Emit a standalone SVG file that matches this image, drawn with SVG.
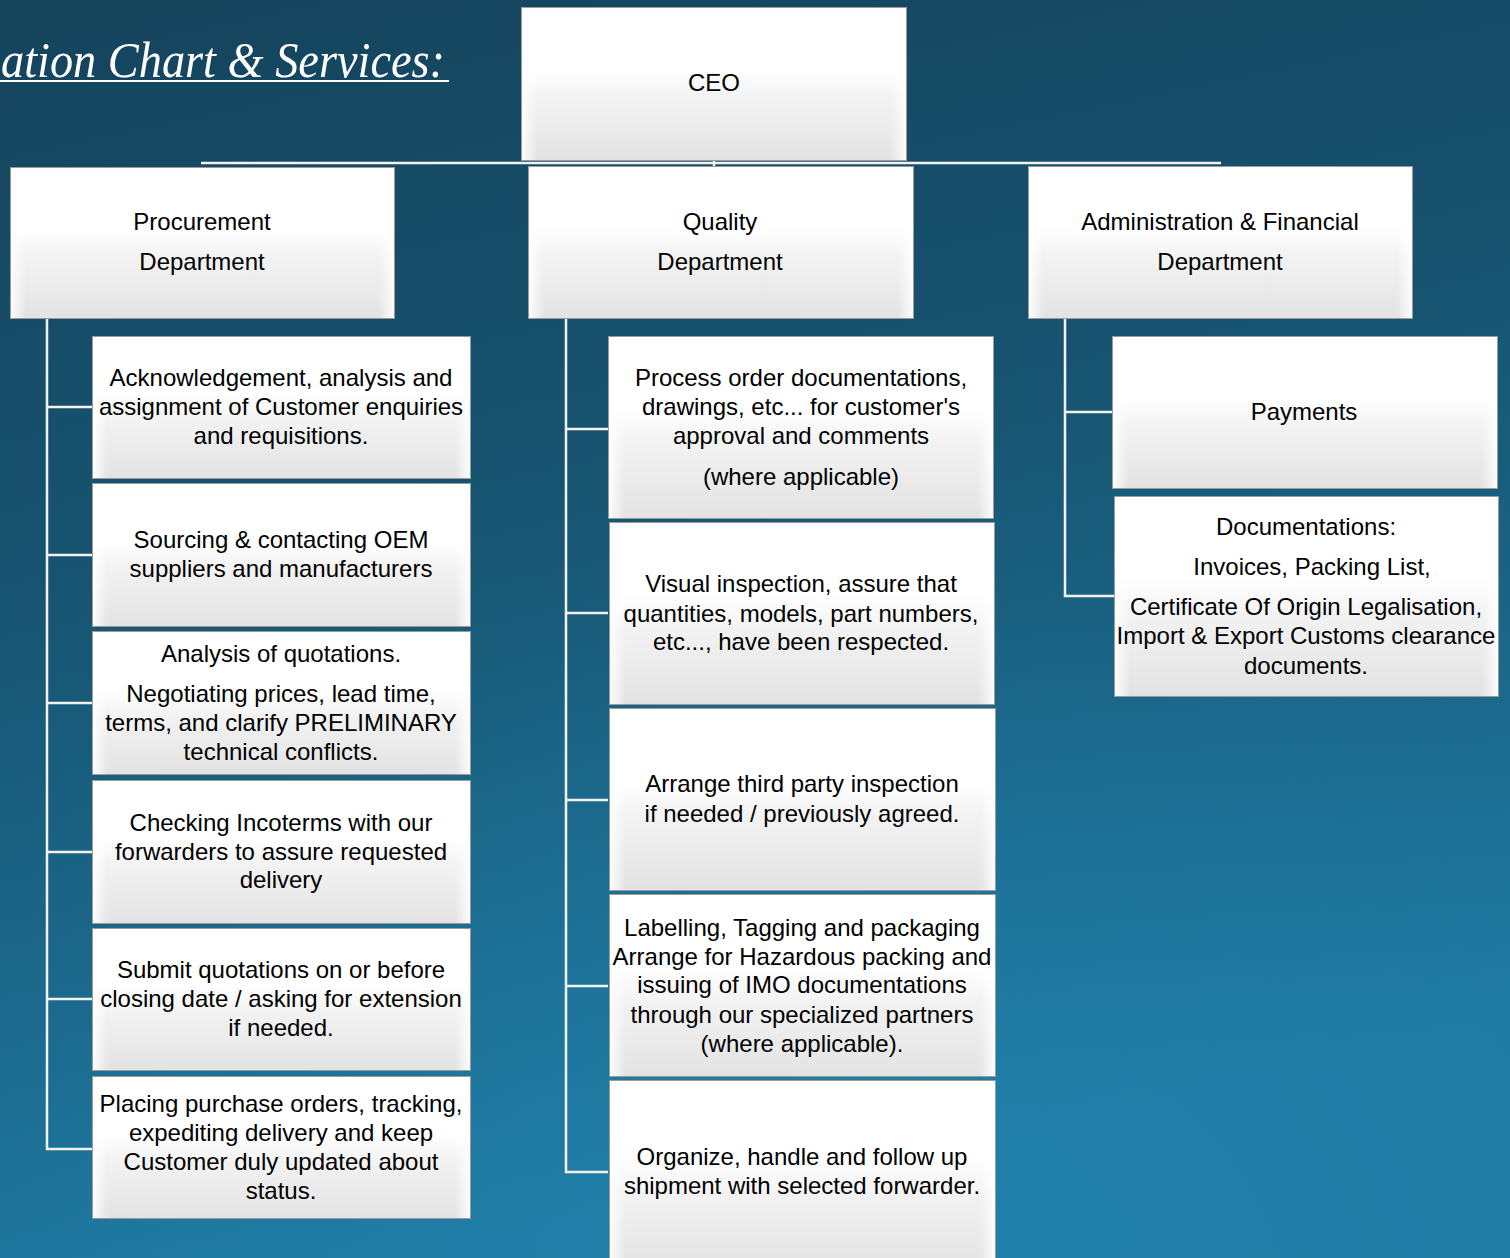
<svg xmlns="http://www.w3.org/2000/svg" width="1510" height="1258" viewBox="0 0 1510 1258">
<defs>
<linearGradient id="bg" x1="0" y1="0" x2="0.25" y2="1">
<stop offset="0" stop-color="#15435c"/>
<stop offset="0.45" stop-color="#175471"/>
<stop offset="1" stop-color="#1f7aa3"/>
</linearGradient>
<radialGradient id="glow" cx="0.6" cy="1.05" r="0.6">
<stop offset="0" stop-color="#2185b0" stop-opacity="0.55"/>
<stop offset="1" stop-color="#2185b0" stop-opacity="0"/>
</radialGradient>
<linearGradient id="box" x1="0" y1="0" x2="0" y2="1">
<stop offset="0" stop-color="#ffffff"/>
<stop offset="0.4" stop-color="#ffffff"/>
<stop offset="0.6" stop-color="#f2f2f2"/>
<stop offset="1" stop-color="#e3e3e3"/>
</linearGradient>
<linearGradient id="sides" x1="0" y1="0" x2="1" y2="0">
<stop offset="0" stop-color="#ffffff" stop-opacity="0.9"/>
<stop offset="0.04" stop-color="#ffffff" stop-opacity="0"/>
<stop offset="0.96" stop-color="#ffffff" stop-opacity="0"/>
<stop offset="1" stop-color="#ffffff" stop-opacity="0.9"/>
</linearGradient>
</defs>
<style>
.b{fill:url(#box);stroke:#9a9a9a;stroke-width:1}
.s{fill:url(#sides);stroke:none}
.t{font-family:"Liberation Sans",Arial,sans-serif;font-size:24px;fill:#000;text-anchor:middle}
.c{stroke:#f2f2f2;stroke-width:2.5;fill:none}
.title{font-family:"Liberation Serif","Times New Roman",serif;font-style:italic;font-size:50px;fill:#ffffff}
</style>
<rect x="0" y="0" width="1510" height="1258" fill="url(#bg)"/>
<rect x="0" y="0" width="1510" height="1258" fill="url(#glow)"/>

<g id="title">
<text class="title" x="1" y="77" textLength="444" lengthAdjust="spacingAndGlyphs">ation Chart &amp; Services:</text>
<line x1="0" y1="81" x2="449" y2="81" stroke="#ffffff" stroke-width="2"/>
</g>

<g id="connectors">
<polyline class="c" points="201,163 1221,163"/>
<line class="c" x1="714" y1="161" x2="714" y2="166"/>
<polyline class="c" points="47,319 47,1149 92,1149"/>
<line class="c" x1="47" y1="407" x2="92" y2="407"/>
<line class="c" x1="47" y1="555" x2="92" y2="555"/>
<line class="c" x1="47" y1="703" x2="92" y2="703"/>
<line class="c" x1="47" y1="852" x2="92" y2="852"/>
<line class="c" x1="47" y1="999" x2="92" y2="999"/>
<polyline class="c" points="566,319 566,1172 608,1172"/>
<line class="c" x1="566" y1="429" x2="608" y2="429"/>
<line class="c" x1="566" y1="613" x2="608" y2="613"/>
<line class="c" x1="566" y1="800" x2="608" y2="800"/>
<line class="c" x1="566" y1="986" x2="608" y2="986"/>
<polyline class="c" points="1065,319 1065,596 1114,596"/>
<line class="c" x1="1065" y1="412" x2="1112" y2="412"/>
</g>

<g id="ceo">
<rect class="b" x="521.5" y="7.5" width="385" height="153"/><rect class="s" x="522" y="8" width="384" height="152"/>
<text class="t" x="714" y="91">CEO</text>
</g>

<g id="procurement">
<rect class="b" x="10.5" y="167.5" width="384" height="151"/><rect class="s" x="11" y="168" width="383" height="150"/>
<text class="t" x="202" y="230">Procurement</text>
<text class="t" x="202" y="270">Department</text>
</g>
<g id="quality">
<rect class="b" x="528.5" y="166.5" width="385" height="152"/><rect class="s" x="529" y="167" width="384" height="151"/>
<text class="t" x="720" y="230">Quality</text>
<text class="t" x="720" y="270">Department</text>
</g>
<g id="admin">
<rect class="b" x="1028.5" y="166.5" width="384" height="152"/><rect class="s" x="1029" y="167" width="383" height="151"/>
<text class="t" x="1220" y="230">Administration &amp; Financial</text>
<text class="t" x="1220" y="270">Department</text>
</g>

<g id="p1">
<rect class="b" x="92.5" y="336.5" width="378" height="142"/><rect class="s" x="93" y="337" width="377" height="141"/>
<text class="t" x="281" y="386">Acknowledgement, analysis and</text>
<text class="t" x="281" y="415">assignment of Customer enquiries</text>
<text class="t" x="281" y="444">and requisitions.</text>
</g>
<g id="p2">
<rect class="b" x="92.5" y="483.5" width="378" height="143"/><rect class="s" x="93" y="484" width="377" height="142"/>
<text class="t" x="281" y="548">Sourcing &amp; contacting OEM</text>
<text class="t" x="281" y="577">suppliers and manufacturers</text>
</g>
<g id="p3">
<rect class="b" x="92.5" y="631.5" width="378" height="143"/><rect class="s" x="93" y="632" width="377" height="142"/>
<text class="t" x="281" y="662">Analysis of quotations.</text>
<text class="t" x="281" y="702">Negotiating prices, lead time,</text>
<text class="t" x="281" y="731">terms, and clarify PRELIMINARY</text>
<text class="t" x="281" y="760">technical conflicts.</text>
</g>
<g id="p4">
<rect class="b" x="92.5" y="780.5" width="378" height="143"/><rect class="s" x="93" y="781" width="377" height="142"/>
<text class="t" x="281" y="831">Checking Incoterms with our</text>
<text class="t" x="281" y="860">forwarders to assure requested</text>
<text class="t" x="281" y="888">delivery</text>
</g>
<g id="p5">
<rect class="b" x="92.5" y="928.5" width="378" height="142"/><rect class="s" x="93" y="929" width="377" height="141"/>
<text class="t" x="281" y="978">Submit quotations on or before</text>
<text class="t" x="281" y="1007">closing date / asking for extension</text>
<text class="t" x="281" y="1036">if needed.</text>
</g>
<g id="p6">
<rect class="b" x="92.5" y="1076.5" width="378" height="142"/><rect class="s" x="93" y="1077" width="377" height="141"/>
<text class="t" x="281" y="1112">Placing purchase orders, tracking,</text>
<text class="t" x="281" y="1141">expediting delivery and keep</text>
<text class="t" x="281" y="1170">Customer duly updated about</text>
<text class="t" x="281" y="1199">status.</text>
</g>

<g id="q1">
<rect class="b" x="608.5" y="336.5" width="385" height="182"/><rect class="s" x="609" y="337" width="384" height="181"/>
<text class="t" x="801" y="386">Process order documentations,</text>
<text class="t" x="801" y="415">drawings, etc... for customer's</text>
<text class="t" x="801" y="444">approval and comments</text>
<text class="t" x="801" y="485">(where applicable)</text>
</g>
<g id="q2">
<rect class="b" x="609.5" y="522.5" width="385" height="182"/><rect class="s" x="610" y="523" width="384" height="181"/>
<text class="t" x="801" y="592">Visual inspection, assure that</text>
<text class="t" x="801" y="622">quantities, models, part numbers,</text>
<text class="t" x="801" y="650">etc..., have been respected.</text>
</g>
<g id="q3">
<rect class="b" x="609.5" y="708.5" width="386" height="182"/><rect class="s" x="610" y="709" width="385" height="181"/>
<text class="t" x="802" y="792">Arrange third party inspection</text>
<text class="t" x="802" y="822">if needed / previously agreed.</text>
</g>
<g id="q4">
<rect class="b" x="609.5" y="894.5" width="386" height="182"/><rect class="s" x="610" y="895" width="385" height="181"/>
<text class="t" x="802" y="936">Labelling, Tagging and packaging</text>
<text class="t" x="802" y="965">Arrange for Hazardous packing and</text>
<text class="t" x="802" y="993">issuing of IMO documentations</text>
<text class="t" x="802" y="1023">through our specialized partners</text>
<text class="t" x="802" y="1052">(where applicable).</text>
</g>
<g id="q5">
<rect class="b" x="609.5" y="1080.5" width="386" height="190"/><rect class="s" x="610" y="1081" width="385" height="189"/>
<text class="t" x="802" y="1165">Organize, handle and follow up</text>
<text class="t" x="802" y="1194">shipment with selected forwarder.</text>
</g>

<g id="a1">
<rect class="b" x="1112.5" y="336.5" width="385" height="152"/><rect class="s" x="1113" y="337" width="384" height="151"/>
<text class="t" x="1304" y="420">Payments</text>
</g>
<g id="a2">
<rect class="b" x="1114.5" y="496.5" width="384" height="200"/><rect class="s" x="1115" y="497" width="383" height="199"/>
<text class="t" x="1306" y="535">Documentations:</text>
<text class="t" x="1312" y="575">Invoices, Packing List,</text>
<text class="t" x="1306" y="615">Certificate Of Origin Legalisation,</text>
<text class="t" x="1306" y="644">Import &amp; Export Customs clearance</text>
<text class="t" x="1306" y="674">documents.</text>
</g>
</svg>
